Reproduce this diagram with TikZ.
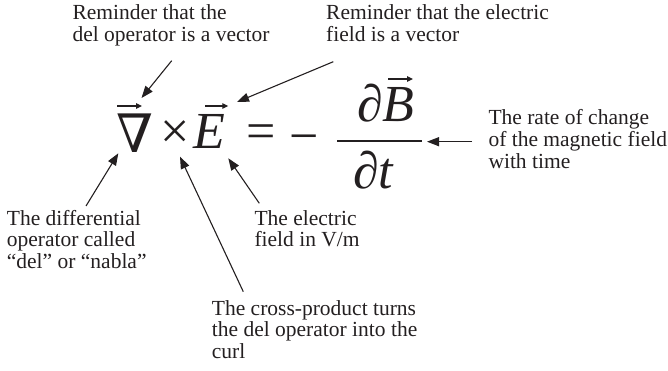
\documentclass[tikz,border=0pt]{standalone}
\usepackage{fontspec}
\setmainfont{Liberation Serif}
\newfontfamily\nablafont{DejaVu Serif}
\usetikzlibrary{arrows.meta}
\definecolor{inkc}{RGB}{35,31,32}
\begin{document}
\begin{tikzpicture}[x=1pt,y=-1pt,
  lbl/.style={font=\fontsize{21.5}{21.7}\selectfont, align=left, inner sep=0pt, anchor=base west, text=inkc},
  eq/.style={inner sep=0pt, anchor=base west, text=inkc},
  eqfont/.style={font=\fontsize{52}{60}\selectfont},
  eqit/.style={font=\fontsize{52}{60}\selectfont\itshape},
  callout/.style={draw=inkc, line width=1.1pt, -{Triangle[length=12pt,width=9pt]}},
  vecarrow/.style={draw=inkc, line width=1.2pt, -{Triangle[length=6pt,width=5.5pt]}}]
\useasboundingbox (0,0) rectangle (668,371);

% labels (anchor = baseline of the last line)
\node[lbl] (tl) at (72.3,41.2) {Reminder that the\\del operator is a vector};
\node[lbl] (tr) at (326,41.2) {Reminder that the electric\\field is a vector};
\node[lbl] (rt) at (488.3,168.4) {The rate of change\\of the magnetic field\\with time};
\node[lbl] (bl) at (6.7,268.4) {The differential\\operator called\\“del” or “nabla”};
\node[lbl] (be) at (254.3,246.7) {The electric\\field in V/m};
\node[lbl] (bc) at (211.7,358.4) {The cross-product turns\\the del operator into the\\curl};

% equation
\node[eq, font=\nablafont\fontsize{53}{60}\selectfont] (nabla) at (116,153) {∇};
\node[eq, eqfont] (times) at (160,149) {×};
\node[eq, eqit] (E) at (193,149) {E};
\node[eq, eqfont] (eqs) at (246.5,149) {=};
\node[eq, eqfont] (minus) at (289.5,154) {−};
\draw[draw=inkc, line width=1.3pt] (337,141) -- (422,141);
\node[eq, eqit] (num) at (357,122) {∂B};
\node[eq, eqit] (den) at (353,188.3) {∂t};

% vector accents
\draw[vecarrow] (117,106) -- (142,106);
\draw[vecarrow] (205,106) -- (228.3,106);
\draw[vecarrow] (388,79) -- (413,79);

% callout coordinates
\coordinate (s1) at (171.7,60.7);  \coordinate (t1) at (141.5,98);
\coordinate (s2) at (333.3,61.7);  \coordinate (t2) at (237,102);
\coordinate (s3) at (472,141.7);   \coordinate (t3) at (427,141.7);
\coordinate (s4) at (86,206);      \coordinate (t4) at (118.3,153.3);
\coordinate (s5) at (243.3,291.7); \coordinate (t5) at (180,156.7);
\coordinate (s6) at (259.3,203.3); \coordinate (t6) at (228.3,158.3);

\draw[callout] (s1) -- (t1);
\draw[callout] (s2) -- (t2);
\draw[callout] (s3) -- (t3);
\draw[callout] (s4) -- (t4);
\draw[callout] (s5) -- (t5);
\draw[callout] (s6) -- (t6);
\end{tikzpicture}
\end{document}
